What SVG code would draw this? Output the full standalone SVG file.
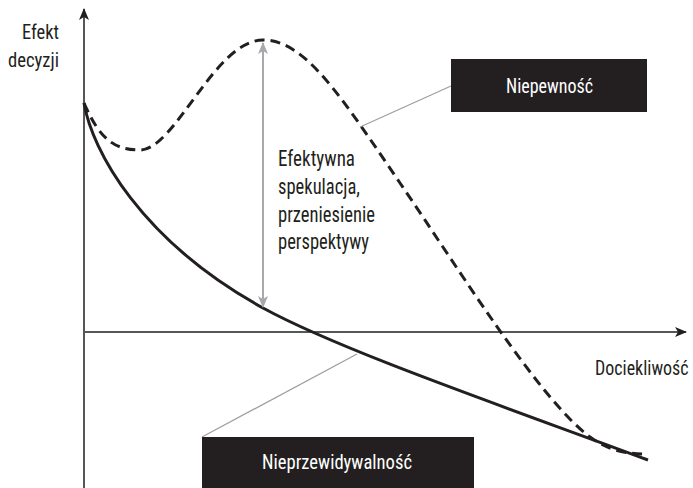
<svg xmlns="http://www.w3.org/2000/svg" width="693" height="488" viewBox="0 0 693 488">
<style>
text{font-family:"Roboto Condensed","DejaVu Sans Condensed",Roboto,"Liberation Sans",sans-serif;fill:#231f20}
.box{fill:#231f20}
.bt{fill:#ffffff;font-size:20.5px}
.lab{font-size:22px}
.ax{font-size:20px}
.axis{stroke:#555658;stroke-width:2;fill:none}
.curve{stroke:#231f20;stroke-width:3;fill:none}
.dash{stroke-dasharray:10 6}
.lead{stroke:#9d9fa2;stroke-width:1.3;fill:none}
.gar{stroke:#a7a9ac;stroke-width:2;fill:none}
</style>
<defs>
<marker id="ah" viewBox="0 0 12 10" refX="11" refY="5" markerWidth="12" markerHeight="10" markerUnits="userSpaceOnUse" orient="auto">
<path d="M0,0 L12,5 L0,10 L3,5 Z" fill="#231f20"/>
</marker>
<marker id="gh" viewBox="0 0 12 10" refX="11" refY="5" markerWidth="12" markerHeight="10" markerUnits="userSpaceOnUse" orient="auto-start-reverse">
<path d="M0,0 L12,5 L0,10 L3,5 Z" fill="#a7a9ac"/>
</marker>
</defs>
<rect width="693" height="488" fill="#ffffff"/>
<g id="connectors">
<path class="axis" d="M84,488 V9" marker-end="url(#ah)"/>
<path class="axis" d="M84,332 H686" marker-end="url(#ah)"/>
<path class="curve" d="M84,103 C92,150 140,240 263,308 C340,350 500,405 648,460"/>
<path class="curve dash" d="M84,103 C100,140 115,150 140,150 C175,150 215,40 263,40 C305,40 340,95 400,183 C460,271 540,400 590,437 C610,452 630,454 648,454"/>
<path class="gar" d="M263,43 V307" marker-start="url(#gh)" marker-end="url(#gh)"/>
<path class="lead" d="M360,127 L451,86"/>
<path class="lead" d="M357,354 L202,437"/>
</g>
<g id="y-label">
<text class="ax" x="59" y="39" text-anchor="end" textLength="37" lengthAdjust="spacingAndGlyphs">Efekt</text>
<text class="ax" x="59" y="67" text-anchor="end" textLength="51" lengthAdjust="spacingAndGlyphs">decyzji</text>
</g>
<g id="x-label">
<text class="ax" transform="translate(595,375) scale(0.8,1)" x="0" y="0" textLength="117" lengthAdjust="spacingAndGlyphs" style="font-size:21px">Dociekliwość</text>
</g>
<g id="speculation-label">
<text class="lab" x="278" y="166" textLength="77" lengthAdjust="spacingAndGlyphs">Efektywna</text>
<text class="lab" x="278" y="194" textLength="82" lengthAdjust="spacingAndGlyphs">spekulacja,</text>
<text class="lab" x="278" y="222" textLength="97" lengthAdjust="spacingAndGlyphs">przeniesienie</text>
<text class="lab" x="278" y="249" textLength="91" lengthAdjust="spacingAndGlyphs">perspektywy</text>
</g>
<g id="niepewnosc">
<rect class="box" x="451" y="59" width="196" height="53"/>
<text class="bt" x="506" y="93" textLength="87" lengthAdjust="spacingAndGlyphs">Niepewność</text>
</g>
<g id="nieprzewidywalnosc">
<rect class="box" x="202" y="437" width="272" height="55"/>
<text class="bt" x="262" y="469" textLength="150" lengthAdjust="spacingAndGlyphs">Nieprzewidywalność</text>
</g>
</svg>
